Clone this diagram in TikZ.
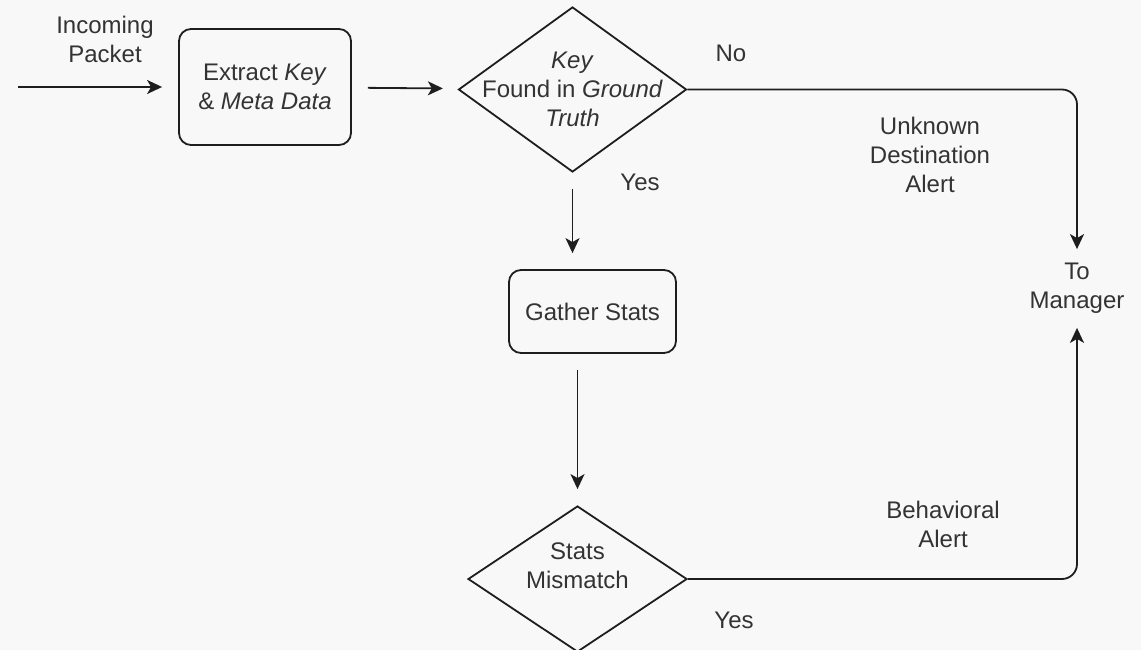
\documentclass[tikz,border=0pt]{standalone}
\usepackage{fontspec}
\setmainfont{Liberation Sans}
\usepackage{tikz}
\usetikzlibrary{shapes.geometric,arrows.meta}
\definecolor{bgcol}{RGB}{248,248,248}
\definecolor{ink}{RGB}{30,30,30}
\definecolor{txt}{RGB}{51,51,51}
\tikzstyle{procbox} = [draw=ink, rectangle, rounded corners=12pt, inner sep=0pt]
\tikzstyle{decision} = [draw=ink, diamond, inner sep=0pt]
\tikzstyle{lbl} = [text=txt, align=center, font=\fontsize{24}{29}\selectfont, inner sep=0pt]
\tikzstyle{arr} = [-{Stealth[length=15pt,width=14pt,inset=4pt]}]
\tikzstyle{flow} = [arr, shorten <=16pt, shorten >=16pt]

\begin{document}
\begin{tikzpicture}[x=1pt,y=-1pt,line width=1.8pt,color=ink]
	\fill[bgcol] (0,0) rectangle (1141,650);
	\useasboundingbox (0,0) rectangle (1141,650);

	\coordinate (src) at (18,87);
	\node[procbox, minimum width=172pt, minimum height=116pt] (extract) at (265,87)
		[lbl] {Extract \textit{Key}\\\& \textit{Meta Data}};
	\node[decision, minimum width=228pt, minimum height=165pt,
		label={[lbl]center:{\textit{Key}\\Found in \textit{Ground}\\\textit{Truth}}}] (found) at (572.5,89.5) {};
	\node[procbox, minimum width=167pt, minimum height=83pt] (gather) at (592.5,311.5)
		[lbl] {Gather Stats};
	\node[decision, minimum width=219pt, minimum height=146pt,
		label={[lbl,yshift=13pt]center:{Stats\\Mismatch}}] (mismatch) at (577.5,579) {};
	\node[lbl, minimum height=77pt] (manager) at (1077,288.5) {To\\Manager};

	\node[lbl] (incoming) at (105,39) {Incoming\\Packet};
	\node[lbl] (no) at (731,53) {No};
	\node[lbl] (yesfound) at (640,182) {Yes};
	\node[lbl] (unknown) at (930,155) {Unknown\\Destination\\Alert};
	\node[lbl] (behav) at (943,524) {Behavioral\\Alert};
	\node[lbl] (yesmis) at (734,620) {Yes};

	\draw[arr, shorten >=16pt] (src) -- (extract);
	\draw[flow] (extract) -- (found);
	\draw[flow] (found.south) -- (found.south |- gather.north);
	\draw[flow] (mismatch.north |- gather.south) -- (mismatch.north);
	\draw[arr, rounded corners=15pt] (found.east) -| (manager.north);
	\draw[arr, rounded corners=15pt] (mismatch.east) -| (manager.south);
\end{tikzpicture}
\end{document}
